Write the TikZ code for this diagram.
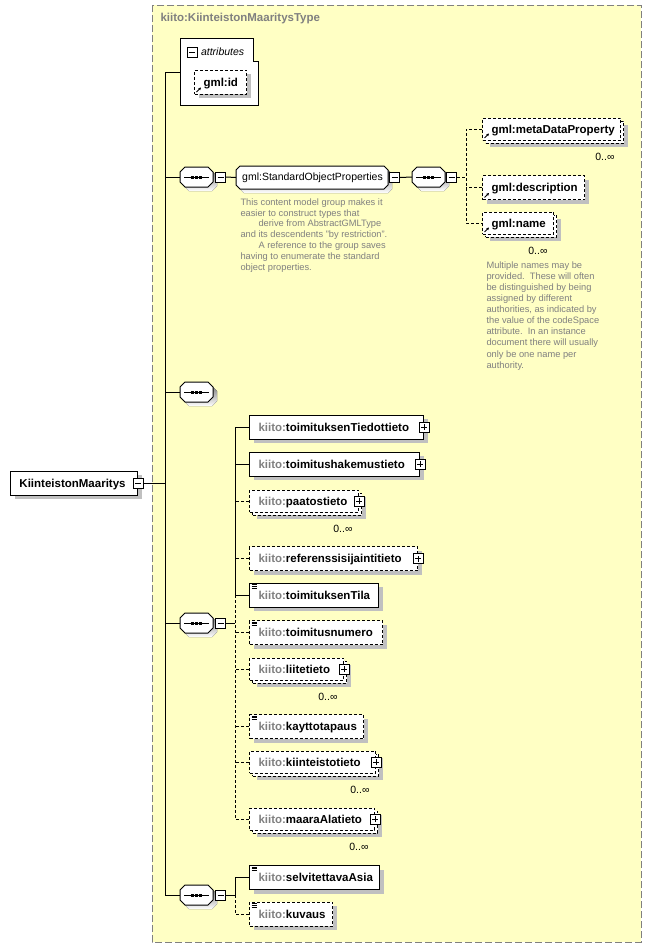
\documentclass[tikz,border=0pt]{standalone}
\usepackage{fontspec}
\setmainfont{Liberation Sans}
\usetikzlibrary{positioning,shadows,arrows.meta}

\definecolor{typebg}{RGB}{255,255,196}
\definecolor{nsgray}{RGB}{128,128,128}
\definecolor{shade}{RGB}{192,192,192}
\definecolor{notegray}{RGB}{128,128,128}

\newcommand{\kiito}[1]{\mbox{\textcolor{nsgray}{kiito:}#1}}
\newcommand{\gml}[1]{\mbox{gml:#1}}

% octagon with shadow: left, centre y, width, height, chamfer
\newcommand{\octo}[5]{%
  \begin{scope}[shift={(#1,#2)}]
    \fill[shade, shift={(4,4)}] (#5,-#4/2) -- (#3-#5,-#4/2) -- (#3,-#4/2+#5) -- (#3,#4/2-#5)
      -- (#3-#5,#4/2) -- (#5,#4/2) -- (0,#4/2-#5) -- (0,-#4/2+#5) -- cycle;
    \filldraw[fill=white] (#5,-#4/2) -- (#3-#5,-#4/2) -- (#3,-#4/2+#5) -- (#3,#4/2-#5)
      -- (#3-#5,#4/2) -- (#5,#4/2) -- (0,#4/2-#5) -- (0,-#4/2+#5) -- cycle;
  \end{scope}}
% sequence compositor: left, centre y
\newcommand{\seqoct}[2]{%
  \octo{#1}{#2}{33}{20}{5}
  \draw (#1+4,#2) -- (#1+29,#2);
  \foreach \d in {-4,0,4}
    \fill (#1+15+\d,#2-1.5) rectangle ++(3,3);}

\tikzset{
  lblfont/.style={font=\fontsize{11.5}{13}\selectfont\bfseries},
  shade box/.style={drop shadow={shadow xshift=4pt, shadow yshift=-4pt, fill=shade, opacity=1}},
  elembase/.style={draw, fill=white, rectangle, anchor=west, inner xsep=9pt, inner ysep=0pt,
    text width=#1pt, align=left, minimum height=24pt, text height=8.25pt, text depth=0pt, lblfont},
  elem/.style={elembase=#1, shade box},
  elemfront/.style={elembase=#1, minimum height=22pt},
  elemback/.style={elem=#1, minimum height=22pt},
  optional/.style={dash pattern=on 3pt off 2pt},
  pmbox/.style={draw, fill=white, minimum size=10pt, inner sep=0pt},
  collapse/.style={pmbox, path picture={
    \draw ([xshift=2pt]path picture bounding box.west) -- ([xshift=-2pt]path picture bounding box.east);}},
  expand/.style={pmbox, path picture={
    \draw ([xshift=2pt]path picture bounding box.west) -- ([xshift=-2pt]path picture bounding box.east)
          ([yshift=2pt]path picture bounding box.south) -- ([yshift=-2pt]path picture bounding box.north);}},
  refmark/.style={path picture={
    \draw[solid, line width=0.8pt, -{Triangle[length=2.5pt,width=2.5pt]}]
      ([shift={(2pt,2pt)}]path picture bounding box.south west) -- ++(4.5pt,4.5pt);}},
  simplemark/.style={path picture={
    \foreach \k in {1.5,3.2,4.9}
      \draw[solid, line width=0.8pt] ([shift={(2pt,-\k pt)}]path picture bounding box.north west) -- ++(5pt,0pt);}},
  seq/.style={rectangle, minimum width=33pt, minimum height=20pt, inner sep=0pt, anchor=west},
  grp/.style={rectangle, minimum width=152pt, minimum height=23pt, inner sep=0pt, anchor=west,
    font=\fontsize{10.5}{12}\selectfont},
  mult/.style={font=\fontsize{10.5}{12}\selectfont, inner sep=0pt, anchor=east},
  note/.style={font=\fontsize{9.3}{10.8}\selectfont, text=notegray, align=left, inner sep=0pt, anchor=north west}
}

\begin{document}
\begin{tikzpicture}[x=1pt,y=-1pt,line width=1pt]
\useasboundingbox (0,0) rectangle (651,948);

% complex type frame
\filldraw[fill=typebg, draw=nsgray, dash pattern=on 7pt off 3pt] (152,5) rectangle (641,942);
\node[lblfont, text=nsgray, anchor=west, inner sep=0pt] (typename) at (160,19) {kiito:KiinteistonMaaritysType};

% attributes
\filldraw[fill=white] (180,38) -- (253,38) -- (253,61) -- (258,61) -- (258,105) -- (180,105) -- cycle;
\coordinate (attr) at (180,72);
\node[collapse] (attrm) at (192,52) {};
\node[right=3pt of attrm, inner sep=0pt, font=\fontsize{10.5}{12}\selectfont\itshape] (attrlabel) {attributes};
\node[elem=34, optional, refmark] (gmlid) at (194,82) {\gml{id}};

% root element
\node[elem=109] (root) at (10,483) {KiinteistonMaaritys};
\node[collapse] (rootm) at (root.east) {};

% standard object properties
\seqoct{180}{177}
\node[seq] (s1) at (180,177) {};
\node[collapse, right=1pt of s1] (s1m) {};
\octo{236}{177.5}{152}{23}{4}
\node[grp] (sop) at (236,177.5) {gml:StandardObjectProperties};
\node[collapse, right=0pt of sop] (sopm) {};
\seqoct{412}{177}
\node[seq] (s2) at (412,177) {};
\node[collapse, right=0pt of s2] (s2m) {};

\node[elemback=120, optional] (metaback) at (485,132) {};
\node[elemfront=120, optional, refmark] (meta) at (482,129) {\gml{metaDataProperty}};
\node[mult] (metamult) at ([xshift=-9pt,yshift=-13pt]metaback.south east) {0..∞};
\node[elem=84, optional, refmark] (desc) at (482,187.5) {\gml{description}};
\node[elemback=53, optional] (nameback) at (485,226) {};
\node[elemfront=53, optional, refmark] (name) at (482,223) {\gml{name}};
\node[mult] (namemult) at ([xshift=-9pt,yshift=-13pt]nameback.south east) {0..∞};

\node[note] (sopnote) at (240,198) {This content model group makes it\\easier to construct types that\\\hspace*{18pt}derive from AbstractGMLType\\and its descendents "by restriction".\\\hspace*{18pt}A reference to the group saves\\having to enumerate the standard\\object properties.};
\node[note, font=\fontsize{9.3}{11.1}\selectfont] (namenote) at (486,261) {Multiple names may be\\provided.\ \ These will often\\be distinguished by being\\assigned by different\\authorities, as indicated by\\the value of the codeSpace\\attribute.\ \ In an instance\\document there will usually\\only be one name per\\authority.};

% empty sequence
\seqoct{180}{392}
\node[seq] (s3) at (180,392) {};

% main sequence
\seqoct{180}{623}
\node[seq] (s4) at (180,623) {};
\node[collapse, right=1pt of s4] (s4m) {};

\node[elem=156] (tiedot) at (249,427) {\kiito{toimituksenTiedottieto}};
\node[expand] (tiedotp) at (tiedot.east) {};
\node[elem=152] (hakemus) at (249,464) {\kiito{toimitushakemustieto}};
\node[expand] (hakemusp) at (hakemus.east) {};
\node[elemback=91, optional] (paatosback) at (252,504) {};
\node[elemfront=91, optional] (paatos) at (249,501) {\kiito{paatostieto}};
\node[expand] (paatosp) at (paatos.east) {};
\node[mult] (paatosmult) at ([xshift=-9pt,yshift=-13pt]paatosback.south east) {0..∞};
\node[elem=150, optional] (referenssi) at (249,558.5) {\kiito{referenssisijaintitieto}};
\node[expand] (referenssip) at (referenssi.east) {};
\node[elem=111, simplemark] (tila) at (249,595) {\kiito{toimituksenTila}};
\node[elem=115, optional, simplemark] (numero) at (249,632.5) {\kiito{toimitusnumero}};
\node[elemback=76, optional] (liiteback) at (252,672) {};
\node[elemfront=76, optional] (liite) at (249,669) {\kiito{liitetieto}};
\node[expand] (liitep) at (liite.east) {};
\node[mult] (liitemult) at ([xshift=-9pt,yshift=-13pt]liiteback.south east) {0..∞};
\node[elem=96, optional, simplemark] (kaytto) at (249,726.5) {\kiito{kayttotapaus}};
\node[elemback=108, optional] (kiintback) at (252,765) {};
\node[elemfront=108, optional] (kiint) at (249,762) {\kiito{kiinteistotieto}};
\node[expand] (kiintp) at (kiint.east) {};
\node[mult] (kiintmult) at ([xshift=-9pt,yshift=-13pt]kiintback.south east) {0..∞};
\node[elemback=107, optional] (maaraback) at (252,822) {};
\node[elemfront=107, optional] (maara) at (249,819) {\kiito{maaraAlatieto}};
\node[expand] (maarap) at (maara.east) {};
\node[mult] (maaramult) at ([xshift=-9pt,yshift=-13pt]maaraback.south east) {0..∞};

% last sequence
\seqoct{180}{895}
\node[seq] (s5) at (180,895) {};
\node[collapse, right=1pt of s5] (s5m) {};
\node[elem=112, simplemark] (selv) at (249,877.5) {\kiito{selvitettavaAsia}};
\node[elem=65, optional, simplemark] (kuvaus) at (249,914) {\kiito{kuvaus}};

% connectors
\coordinate (spine) at (165,0);
\coordinate (s2x) at (466,0);
\coordinate (s4x) at (235,0);

\draw (attr) -| (spine |- s5.west) -- (s5.west);
\draw (s1.west) -- (s1.west -| spine);
\draw (s3.west) -- (s3.west -| spine);
\draw (s4.west) -- (s4.west -| spine);
\draw (rootm.east) -- (rootm.east -| spine);
\draw (s1m.east) -- (sop.west);
\draw (sopm.east) -- (s2.west);
\draw[optional] (s2m.east) -- (s2m.east -| s2x);
\draw[optional] (meta.west) -- (meta.west -| s2x) |- (name.west);
\draw[optional] (desc.west) -- (desc.west -| s2x);

\draw (s4m.east) -- (s4m.east -| s4x);
\draw (tiedot.west) -- (tiedot.west -| s4x) |- (tila.west);
\draw (hakemus.west) -- (hakemus.west -| s4x);
\draw[optional] (tila.west -| s4x) |- (maara.west);
\foreach \n in {paatos,referenssi,numero,liite,kaytto,kiint}
  \draw[optional] (\n.west) -- (\n.west -| s4x);

\draw (s5m.east) -- (s5m.east -| s4x);
\draw (selv.west) -- (selv.west -| s4x) -- (s5m.east -| s4x);
\draw[optional] (s5m.east -| s4x) |- (kuvaus.west);
\end{tikzpicture}
\end{document}
